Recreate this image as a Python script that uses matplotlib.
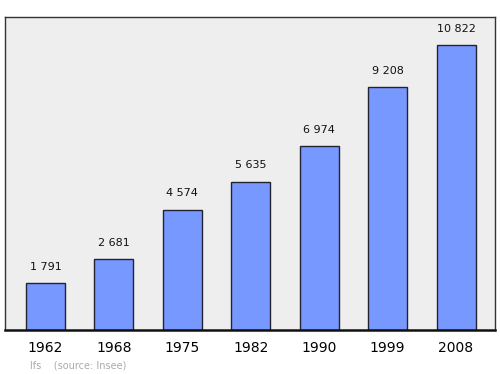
import matplotlib
matplotlib.use("Agg")
import matplotlib.pyplot as plt

years = ["1962", "1968", "1975", "1982", "1990", "1999", "2008"]
population = [1791, 2681, 4574, 5635, 6974, 9208, 10822]
value_labels = ["1 791", "2 681", "4 574", "5 635", "6 974", "9 208", "10 822"]

fig = plt.figure(figsize=(5, 3.74), dpi=100)
fig.patch.set_facecolor("white")
ax = fig.add_axes([0.01, 0.1176, 0.98, 0.837])
ax.set_facecolor("#eeeeee")

x = list(range(len(years)))
ax.bar(x, population, width=0.57, color="#7799ff", edgecolor="#222233", linewidth=1.0, zorder=2)
for xi, v, lab in zip(x, population, value_labels):
    ax.annotate(lab, (xi, v), xytext=(0, 8), textcoords="offset points",
                ha="center", va="bottom", fontsize=8, color="#111111")

ax.set_xlim(-0.592, 6.57)
ax.set_ylim(0, 11885)
ax.set_xticks(x)
ax.set_xticklabels(years, fontsize=10)
ax.tick_params(axis="x", length=0, pad=8)
ax.set_yticks([])
for s in ["left", "right", "top"]:
    ax.spines[s].set_color("#333333")
    ax.spines[s].set_linewidth(1.0)
ax.spines["bottom"].set_color("#111111")
ax.spines["bottom"].set_linewidth(1.8)

fig.text(0.06, 0.01, "lfs    (source: Insee)", fontsize=7, color="#aaaaaa", ha="left", va="bottom")

fig.savefig("out.png", dpi=100)
